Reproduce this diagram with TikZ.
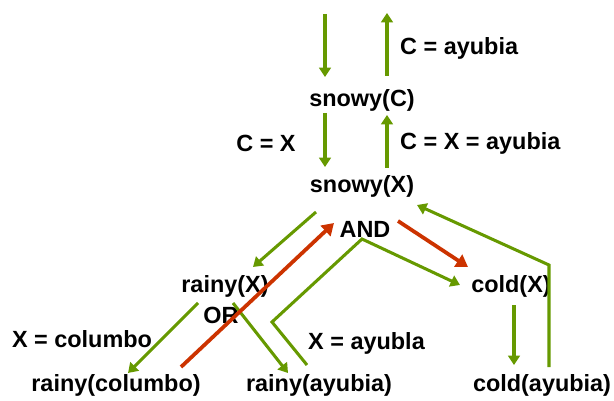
\documentclass[tikz,border=0pt]{standalone}
\usepackage{fontspec}
\setmainfont{Liberation Sans}
\usetikzlibrary{arrows.meta}
\definecolor{goalgreen}{RGB}{102,153,0}
\definecolor{failred}{RGB}{204,51,0}
\tikzset{
	lbl/.style = {font=\bfseries\fontsize{20}{24}\selectfont, inner sep=0pt},
	call/.style = {goalgreen, line width=2.6pt, -{Triangle[length=8pt,width=10pt]}},
	back/.style = {goalgreen, line width=2.6pt},
	redo/.style = {failred, line width=3.2pt, -{Triangle[length=10pt,width=12pt]}}
}
\begin{document}
\begin{tikzpicture}[x=0.03cm, y=-0.03cm]
	\useasboundingbox (0,0) rectangle (614,401);
	% goals
	\node [lbl] (snowyC) at (362,100) {snowy(C)};
	\node [lbl] (snowyX) at (362,186) {snowy(X)};
	\node [lbl] (and) at (365,229) {AND};
	\node [lbl] (rainyX) at (225,286) {rainy(X)};
	\node [lbl] (or) at (221,315) {OR};
	\node [lbl] (coldX) at (511,286) {cold(X)};
	\node [lbl] (rainyC) at (116,385) {rainy(columbo)};
	\node [lbl] (rainyA) at (319,385) {rainy(ayubia)};
	\node [lbl] (coldA) at (542,385) {cold(ayubia)};
	% bindings
	\node [lbl, anchor=west] (bindC) at (400,48) {C = ayubia};
	\node [lbl] (bindCX) at (266,143) {C = X};
	\node [lbl, anchor=west] (bindCXA) at (400,143) {C = X = ayubia};
	\node [lbl] (bindXc) at (82,339) {X = columbo};
	\node [lbl, anchor=west] (bindXa) at (308,343) {X = ayubla};
	% end points
	\coordinate (qin) at (325,14);
	\coordinate (qout) at (387,13);
	\coordinate (cIn) at (325,77);
	\coordinate (cOut) at (387,76);
	\coordinate (cDown) at (325,113);
	\coordinate (cUp) at (387,115);
	\coordinate (xIn) at (325,167);
	\coordinate (xOut) at (387,168);
	\coordinate (xl) at (316,212);
	\coordinate (xr) at (417,205);
	\coordinate (rl) at (253,267);
	\coordinate (rxl) at (198,303);
	\coordinate (rxr) at (233,303);
	\coordinate (rc) at (128,373);
	\coordinate (ra) at (288,373);
	\coordinate (rab) at (307,365);
	\coordinate (bend) at (272,322);
	\coordinate (andb) at (362,239);
	\coordinate (cl) at (460,285);
	\coordinate (cxb) at (514,305);
	\coordinate (cat) at (514,365);
	\coordinate (cab) at (549,367);
	\coordinate (corner) at (549,265);
	\coordinate (redS) at (181,367);
	\coordinate (andL) at (334,223);
	\coordinate (andR) at (398,221);
	\coordinate (coldT) at (468,267);
	% green: calls and exits
	\draw [call] (qin) -- (cIn);
	\draw [call] (cOut) -- (qout);
	\draw [call] (cDown) -- (xIn);
	\draw [call] (xOut) -- (cUp);
	\draw [call] (xl) -- (rl);
	\draw [call] (rxl) -- (rc);
	\draw [call] (rxr) -- (ra);
	\draw [call, line join=miter] (rab) -- (bend) -- (andb) -- (cl);
	\draw [call] (cxb) -- (cat);
	\draw [call, line join=miter] (cab) -- (corner) -- (xr);
	% red: backtracking
	\draw [redo] (redS) -- (andL);
	\draw [redo] (andR) -- (coldT);
\end{tikzpicture}
\end{document}
